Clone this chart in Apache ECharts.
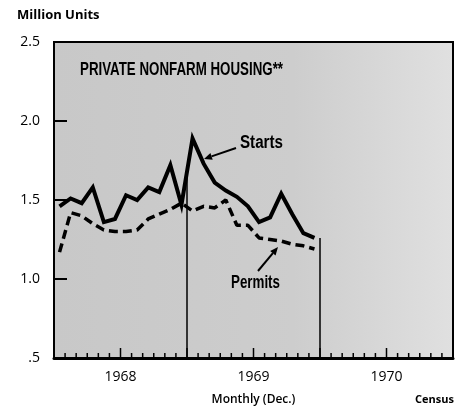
<!DOCTYPE html>
<html>
<head>
<meta charset="utf-8">
<script src="https://cdn.jsdelivr.net/npm/echarts@6/dist/echarts.min.js"></script>
<style>
  html, body { margin: 0; padding: 0; background: #fff; }
  #chart { width: 473px; height: 406px; }
</style>
</head>
<body>
<div id="chart"></div>
<script>
// monthly data, Jan 1968 - Dec 1969 (million units, annual rate)
var years = ['1968', '1969', '1970'];
var starts = [1.46, 1.51, 1.48, 1.58, 1.36, 1.38, 1.53, 1.50, 1.58, 1.55, 1.72, 1.47,
              1.89, 1.73, 1.61, 1.56, 1.52, 1.46, 1.36, 1.39, 1.54, 1.41, 1.29, 1.26];
var permits = [1.17, 1.42, 1.40, 1.35, 1.31, 1.30, 1.30, 1.31, 1.38, 1.41, 1.44, 1.48,
               1.43, 1.46, 1.45, 1.50, 1.34, 1.34, 1.26, 1.25, 1.24, 1.22, 1.21, 1.19];
var yTicks = [0.5, 1.0, 1.5, 2.0, 2.5];

var boldFont = '"Liberation Sans", Arial, sans-serif';
var labelFont = '"Open Sans", "DejaVu Sans", sans-serif';

// plot box
var G = { left: 54, top: 42, width: 399, height: 316 };

// month i sits in the middle of its band [i, i+1]
function toPoints(arr) {
  return arr.map(function (v, i) { return [i + 0.5, v]; });
}

// month boundaries 0..36 for the little inward ticks
var monthEdges = [];
for (var m = 0; m <= years.length * 12; m++) monthEdges.push([m, yTicks[0]]);

// squeeze a bold label to the width it has in the print (condensed type)
var measureCtx = document.createElement('canvas').getContext('2d');
function condensedText(text, size, width, left, top) {
  var font = 'bold ' + size + 'px ' + boldFont;
  measureCtx.font = font;
  var w = measureCtx.measureText(text).width;
  return {
    type: 'text', x: left, y: top, scaleX: width / w, z: 20,
    style: { text: text, font: font, fill: '#000' }
  };
}

// arrow as a line plus a small filled head
function arrow(x1, y1, x2, y2) {
  var dx = x2 - x1, dy = y2 - y1;
  var len = Math.sqrt(dx * dx + dy * dy);
  var ux = dx / len, uy = dy / len;
  var bx = x2 - ux * 8, by = y2 - uy * 8;
  var px = -uy * 3.5, py = ux * 3.5;
  return {
    type: 'group', z: 20,
    children: [
      { type: 'line', shape: { x1: x1, y1: y1, x2: bx, y2: by },
        style: { stroke: '#000', lineWidth: 2 } },
      { type: 'polygon', shape: { points: [[x2, y2], [bx + px, by + py], [bx - px, by - py]] },
        style: { fill: '#000' } }
    ]
  };
}

var chart = echarts.init(document.getElementById('chart'));

var option = {
  animation: false,
  grid: {
    left: G.left, top: G.top, width: G.width, height: G.height,
    outerBoundsMode: 'none',
    containLabel: false,
    show: false
  },
  xAxis: {
    type: 'value',
    min: 0, max: 36, interval: 1,
    name: 'Monthly (Dec.)',
    nameLocation: 'middle',
    nameGap: 36,
    nameTextStyle: { fontFamily: labelFont, fontWeight: 600, fontSize: 12, color: '#000' },
    axisLine: { show: true, lineStyle: { color: '#000', width: 3 } },
    axisTick: { show: false },
    splitLine: { show: false },
    axisLabel: {
      margin: 12,
      fontFamily: labelFont, fontSize: 14, color: '#000',
      formatter: function (v) {
        return (v - 6) % 12 === 0 ? years[(v - 6) / 12] : '';
      }
    }
  },
  yAxis: {
    type: 'value',
    min: yTicks[0], max: yTicks[yTicks.length - 1], interval: 0.5,
    axisLine: { show: true, lineStyle: { color: '#000', width: 2 } },
    axisTick: { show: false },
    splitLine: { show: false },
    axisLabel: {
      margin: 14,
      fontFamily: labelFont, fontSize: 14, color: '#000',
      formatter: function (v) { return v === 0.5 ? '.5' : v.toFixed(1); }
    }
  },
  series: [
    {
      // inward month ticks on the bottom axis, longer at mid-year
      type: 'custom',
      silent: true,
      data: monthEdges,
      renderItem: function (params, api) {
        var p = api.coord([api.value(0), api.value(1)]);
        var len = api.value(0) % 6 === 0 ? 10 : 5;
        return { type: 'line', shape: { x1: p[0], y1: p[1], x2: p[0], y2: p[1] - len },
                 style: { stroke: '#000', lineWidth: 1.5 } };
      },
      z: 5
    },
    {
      // inward value ticks on the left axis
      type: 'custom',
      silent: true,
      data: yTicks.slice(1, -1).map(function (v) { return [0, v]; }),
      renderItem: function (params, api) {
        var p = api.coord([api.value(0), api.value(1)]);
        return { type: 'line', shape: { x1: p[0], y1: p[1], x2: p[0] + 13, y2: p[1] },
                 style: { stroke: '#000', lineWidth: 2 } };
      },
      z: 5
    },
    {
      name: 'Permits',
      type: 'line',
      data: toPoints(permits),
      symbol: 'none',
      lineStyle: { color: '#000', width: 3.5, type: [9, 5] },
      z: 3
    },
    {
      name: 'Starts',
      type: 'line',
      data: toPoints(starts),
      symbol: 'none',
      lineStyle: { color: '#000', width: 4, join: 'miter' },
      z: 4,
      markLine: {
        silent: true,
        symbol: 'none',
        label: { show: false },
        lineStyle: { color: '#000', width: 1.5, type: 'solid' },
        data: [
          [{ coord: [12, yTicks[0]] }, { coord: [12, (starts[11] + starts[12]) / 2] }],
          [{ coord: [24, yTicks[0]] }, { coord: [24, starts[starts.length - 1]] }]
        ]
      }
    }
  ],
  graphic: [
    // halftone-grey plot background, behind everything
    { type: 'rect', z: -10, silent: true,
      shape: { x: G.left, y: G.top, width: G.width, height: G.height },
      style: {
        fill: new echarts.graphic.LinearGradient(0, 0, 1, 0, [
          { offset: 0, color: '#c8c8c8' },
          { offset: 0.6, color: '#cdcdcd' },
          { offset: 1, color: '#e0e0e0' }
        ])
      } },
    // frame
    { type: 'rect', z: 10, silent: true,
      shape: { x: G.left, y: G.top, width: G.width, height: G.height },
      style: { fill: null, stroke: '#000', lineWidth: 2 } },
    { type: 'text', x: 17, y: 9,
      style: { text: 'Million Units', font: 'bold 13px ' + labelFont, fill: '#000' } },
    condensedText('PRIVATE NONFARM HOUSING**', 18, 203, 80, 61),
    condensedText('Starts', 18, 43, 240, 134),
    condensedText('Permits', 18, 49, 231, 274),
    { type: 'text', x: 415, y: 394,
      style: { text: 'Census', font: 'bold 11px ' + labelFont, fill: '#000' } },
    arrow(236, 148, 204, 159),
    arrow(258, 271, 278, 247)
  ]
};

chart.setOption(option);
</script>
</body>
</html>
